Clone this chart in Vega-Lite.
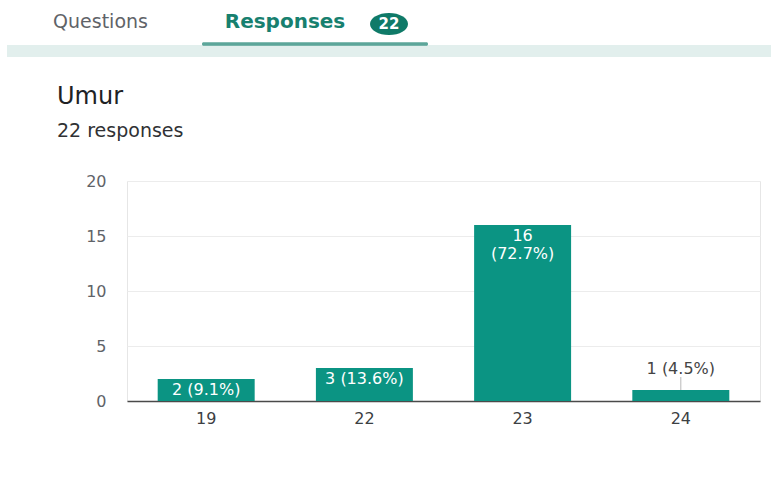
{
  "$schema": "https://vega.github.io/schema/vega-lite/v6.json",
  "background": "white",
  "padding": {"left": 7, "top": 0, "right": 0, "bottom": 0},
  "spacing": 27,
  "config": {
    "font": "DejaVu Sans",
    "view": {"stroke": null}
  },
  "vconcat": [
    {
      "width": 644,
      "height": 44,
      "view": {"stroke": null},
      "data": {"values": [
        {"tab": "Questions", "badge": ""},
        {"tab": "Responses", "badge": "22"}
      ]},
      "encoding": {
        "x": {"field": "tab", "type": "nominal", "sort": null, "scale": {"type": "point", "domain": ["Questions", "Responses"], "range": [-26.5, 188], "padding": 0}, "axis": null}
      },
      "layer": [
        {
          "transform": [{"filter": "datum.tab === 'Responses'"}],
          "mark": {"type": "tick", "orient": "horizontal", "size": 764, "thickness": 12, "color": "#d5e8e5"},
          "encoding": {
            "y": {"value": "height"},
            "xOffset": {"value": 74},
            "yOffset": {"value": 7}
          }
        },
        {
          "transform": [{"filter": "datum.tab === 'Questions'"}],
          "mark": {"type": "text", "fontSize": 19, "color": "#5f6368", "baseline": "middle", "align": "center"},
          "encoding": {"text": {"field": "tab"}}
        },
        {
          "transform": [{"filter": "datum.tab === 'Responses'"}],
          "mark": {"type": "text", "fontSize": 20, "fontWeight": "bold", "color": "#17806f", "baseline": "middle", "align": "center", "dx": -30},
          "encoding": {"text": {"field": "tab"}}
        },
        {
          "transform": [{"filter": "datum.tab === 'Responses'"}],
          "mark": {"type": "point", "filled": true, "color": "#0f7a68", "opacity": 1, "size": 1444, "shape": "M-1,0 A1,0.58 0 1,1 1,0 A1,0.58 0 1,1 -1,0 Z"},
          "encoding": {
            "xOffset": {"value": 74},
            "yOffset": {"value": 2}
          }
        },
        {
          "transform": [{"filter": "datum.tab === 'Responses'"}],
          "mark": {"type": "text", "fontSize": 15, "fontWeight": "bold", "color": "white", "baseline": "middle", "align": "center", "dx": 74, "dy": 2},
          "encoding": {"text": {"field": "badge"}}
        },
        {
          "transform": [{"filter": "datum.tab === 'Responses'"}],
          "mark": {"type": "tick", "orient": "horizontal", "size": 226, "thickness": 3.5, "color": "#17806f", "cornerRadius": 1.5},
          "encoding": {"y": {"value": "height"}}
        }
      ]
    },
    {
      "width": 633,
      "height": 220,
      "view": {"stroke": "#e6e6e6"},
      "title": {
        "text": "Umur",
        "subtitle": "22 responses",
        "anchor": "start",
        "frame": "group",
        "dx": -70,
        "offset": 32,
        "font": "DejaVu Sans",
        "fontSize": 24,
        "fontWeight": "normal",
        "color": "#202124",
        "subtitleFont": "DejaVu Sans",
        "subtitleFontSize": 19,
        "subtitleColor": "#303134",
        "subtitlePadding": 13
      },
      "data": {"values": [
        {"age": "19", "count": 2, "label": ["2 (9.1%)"]},
        {"age": "22", "count": 3, "label": ["3 (13.6%)"]},
        {"age": "23", "count": 16, "label": ["16", "(72.7%)"]},
        {"age": "24", "count": 1, "label": ["1 (4.5%)"]}
      ]},
      "encoding": {
        "x": {
          "field": "age", "type": "nominal", "sort": null,
          "scale": {"paddingInner": 0.387, "paddingOuter": 0.194},
          "axis": {"title": null, "labelAngle": 0, "ticks": false, "domainColor": "#4a4a4a", "domainWidth": 1.5, "labelPadding": 9, "labelFontSize": 16, "labelColor": "#3c4043", "labelFont": "DejaVu Sans", "grid": false}
        }
      },
      "layer": [
        {
          "mark": {"type": "bar", "color": "#0b9483"},
          "encoding": {
            "y": {
              "field": "count", "type": "quantitative",
              "scale": {"domain": [0, 20]},
              "axis": {"title": null, "values": [0, 2.5, 5, 7.5, 10, 12.5, 15, 17.5, 20], "format": "d", "labelExpr": "datum.value % 5 === 0 ? datum.label : ''", "domain": false, "ticks": false, "labelPadding": 21, "labelFontSize": 16, "labelColor": "#5f6368", "labelFont": "DejaVu Sans", "gridColor": "#ececec", "gridWidth": 1}
            }
          }
        },
        {
          "transform": [{"filter": "datum.count >= 2"}],
          "mark": {"type": "text", "baseline": "top", "dy": 3, "color": "white", "fontSize": 16, "lineHeight": 18},
          "encoding": {
            "y": {"field": "count", "type": "quantitative"},
            "text": {"field": "label"}
          }
        },
        {
          "transform": [{"filter": "datum.count < 2"}],
          "mark": {"type": "text", "baseline": "bottom", "dy": -13, "color": "#444444", "fontSize": 16},
          "encoding": {
            "y": {"field": "count", "type": "quantitative"},
            "text": {"field": "label"}
          }
        },
        {
          "transform": [{"filter": "datum.count < 2"}],
          "mark": {"type": "tick", "orient": "vertical", "size": 13, "thickness": 1, "color": "#9a9a9a"},
          "encoding": {
            "y": {"field": "count", "type": "quantitative"},
            "yOffset": {"value": -6.5}
          }
        }
      ]
    }
  ]
}
